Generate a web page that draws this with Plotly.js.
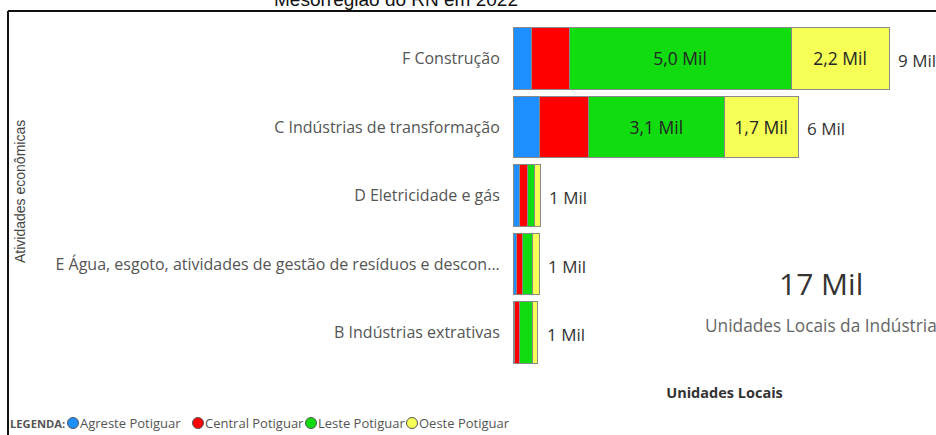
<!DOCTYPE html>
<html>
<head>
<meta charset="utf-8">
<script src="https://cdn.plot.ly/plotly-3.0.1.min.js"></script>
<style>html,body{margin:0;padding:0;background:#fff;}#chart{width:936px;height:435px;}</style>
</head>
<body>
<div id="chart"></div>
<script>
const categories = [
  'F Construção',
  'C Indústrias de transformação',
  'D Eletricidade e gás',
  'E Água, esgoto, atividades de gestão de resíduos e descon...',
  'B Indústrias extrativas'
];
const seriesNames = ['Agreste Potiguar', 'Central Potiguar', 'Leste Potiguar', 'Oeste Potiguar'];
const agreste = [410, 590, 140, 90, 45];
const central = [860, 1110, 180, 115, 110];
const leste = [5020, 3080, 160, 230, 290];
const oeste = [2220, 1670, 140, 160, 115];
const seriesColors = ['#1e8fff', '#ff0000', '#10dc10', '#f6ff55'];
const titleText = 'Mesorregião do RN em 2022';
const yTitle = 'Atividades econômicas';
const xTitle = 'Unidades Locais';
const kpiLabel = 'Unidades Locais da Indústria';
const legendTitle = 'LEGENDA:';

const W = 936, H = 435;
const M = {l: 513, r: 0, t: 24, b: 68};
const PW = W - M.l - M.r, PH = H - M.t - M.b;
const px = x => (x - M.l) / PW;
const py = y => (H - M.b - y) / PH;

const FONT = 'Open Sans, Noto Sans, sans-serif';
const fmtIn = v => v >= 1500 ? (v / 1000).toFixed(1).replace('.', ',') + ' Mil' : '';

const series = [agreste, central, leste, oeste];
const traces = series.map((vals, i) => ({
  type: 'bar',
  orientation: 'h',
  name: seriesNames[i],
  y: categories,
  x: vals,
  text: vals.map(fmtIn),
  textposition: 'inside',
  insidetextanchor: 'middle',
  textangle: 0,
  constraintext: 'none',
  textfont: {family: FONT, size: 17.5, color: '#252525'},
  marker: {color: seriesColors[i], line: {color: '#8a8a8a', width: 1}},
  hoverinfo: 'x+y+name'
}));

const totals = categories.map((c, k) => series.reduce((s, arr) => s + arr[k], 0));
const grand = totals.reduce((a, b) => a + b, 0);

const annotations = totals.map((t, k) => ({
  x: t, y: categories[k], xref: 'x', yref: 'y',
  text: Math.round(t / 1000) + ' Mil',
  xanchor: 'left', yanchor: 'middle', xshift: 7, yshift: -2, showarrow: false,
  font: {family: FONT, size: 17, color: '#333'}
}));

annotations.push({
  x: px(821), y: py(283), xref: 'paper', yref: 'paper',
  text: Math.round(grand / 1000) + ' Mil', showarrow: false,
  xanchor: 'center', yanchor: 'middle',
  font: {family: FONT, size: 30, color: '#333'}
});
annotations.push({
  x: px(821), y: py(325), xref: 'paper', yref: 'paper',
  text: kpiLabel, showarrow: false,
  xanchor: 'center', yanchor: 'middle',
  font: {family: FONT, size: 17.3, color: '#666'}
});

annotations.push({
  x: px(20), y: py(192), xref: 'paper', yref: 'paper',
  text: yTitle, showarrow: false, textangle: -90,
  xanchor: 'center', yanchor: 'middle',
  font: {family: 'Liberation Sans, Arial, sans-serif', size: 14, color: '#444'}
});

// legend built from series names
const legendY = 423;
annotations.push({
  x: px(8), y: py(legendY), xref: 'paper', yref: 'paper',
  text: '<b>' + legendTitle + '</b>', showarrow: false,
  xanchor: 'left', yanchor: 'middle',
  font: {family: FONT, size: 11.2, color: '#555'}
});
const legendDotX = [73, 198, 311, 412];
const shapes = [];
seriesNames.forEach((n, i) => {
  const cx = legendDotX[i], r = 5.5;
  shapes.push({
    type: 'circle', xref: 'paper', yref: 'paper',
    x0: px(cx - r), x1: px(cx + r), y0: py(legendY + r), y1: py(legendY - r),
    fillcolor: seriesColors[i], line: {color: '#555', width: 1}
  });
  annotations.push({
    x: px(cx + 5), y: py(legendY), xref: 'paper', yref: 'paper',
    text: n, showarrow: false, xanchor: 'left', yanchor: 'middle',
    font: {family: FONT, size: 13, color: '#555'}
  });
});

shapes.push(
  {type: 'line', xref: 'paper', yref: 'paper', x0: px(8), x1: px(940), y0: py(11), y1: py(11), line: {color: '#111', width: 2}},
  {type: 'line', xref: 'paper', yref: 'paper', x0: px(8), x1: px(8), y0: py(11), y1: py(440), line: {color: '#111', width: 2}}
);

const layout = {
  width: W, height: H,
  margin: M,
  paper_bgcolor: '#fff', plot_bgcolor: '#fff',
  barmode: 'stack',
  bargap: 0.1,
  showlegend: false,
  title: {
    text: titleText,
    font: {family: 'Liberation Sans, Arial, sans-serif', size: 19, color: '#111'},
    x: 396 / W, xanchor: 'center', xref: 'container',
    y: 1 - 6 / H, yanchor: 'bottom', yref: 'container'
  },
  xaxis: {
    range: [0, 9570],
    showgrid: false, zeroline: false, showticklabels: false, ticks: '',
    showline: false, fixedrange: true,
    title: {text: '<b>' + xTitle + '</b>', font: {family: FONT, size: 14.5, color: '#333'}, standoff: 20}
  },
  yaxis: {
    type: 'category',
    autorange: 'reversed',
    showgrid: false, zeroline: false, showline: false,
    ticks: 'outside', ticklen: 9, tickcolor: 'rgba(0,0,0,0)',
    tickfont: {family: FONT, size: 16, color: '#555'}
  },
  annotations: annotations,
  shapes: shapes
};

Plotly.newPlot('chart', traces, layout, {displayModeBar: false, staticPlot: true});
</script>
</body>
</html>
